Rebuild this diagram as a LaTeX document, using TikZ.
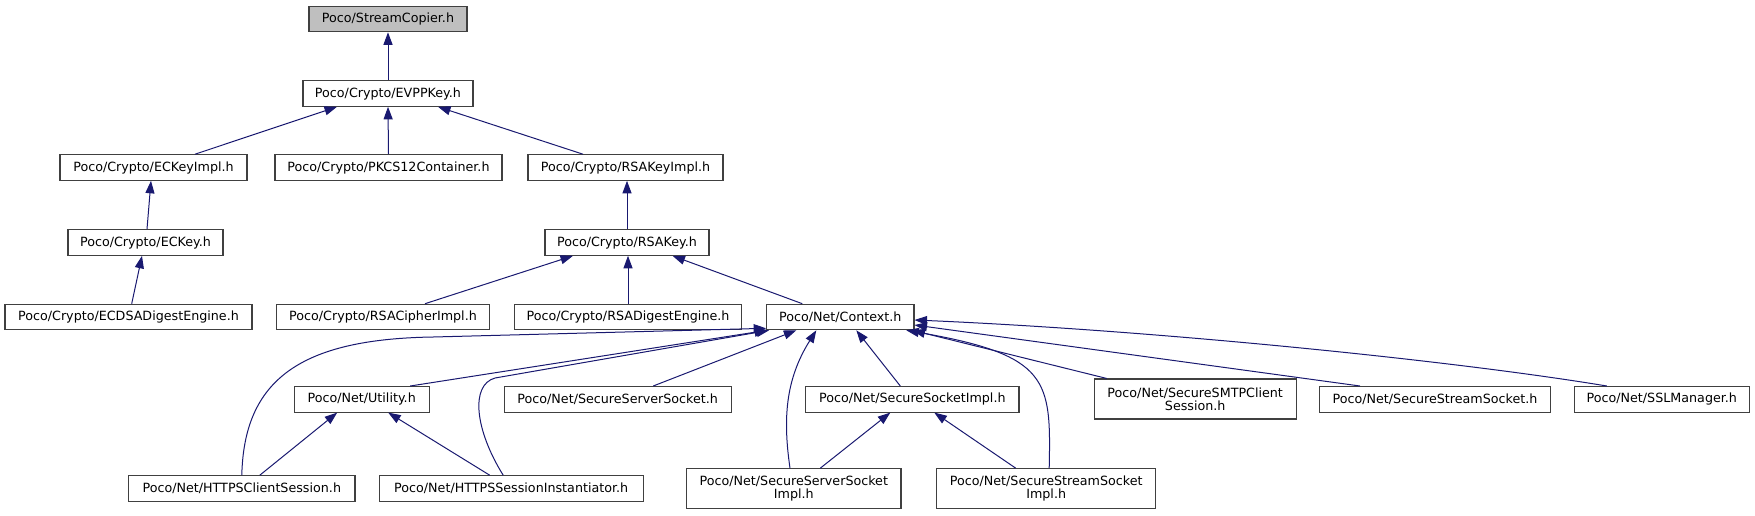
\documentclass[tikz,border=0pt]{standalone}
\usepackage{fontspec}
\setmainfont{DejaVu Sans}
\usetikzlibrary{arrows.meta,calc}
\definecolor{edgeblue}{HTML}{191970}
\definecolor{boxline}{HTML}{404040}
\definecolor{rootfill}{HTML}{BFBFBF}
\begin{document}
\begin{tikzpicture}[x=1pt,y=-1pt,
  box/.style={draw=boxline, line width=1.1pt, fill=white, rectangle, inner sep=0pt,
    minimum height=25.5pt, align=center, font=\fontsize{12.7}{13.4}\selectfont},
  tall/.style={minimum height=40pt},
  link/.style={draw=edgeblue, line width=1pt, -{Triangle[length=12.5pt,width=9pt,fill=edgeblue]}}
]
\useasboundingbox (0,0) rectangle (1755,515);

% nodes
\node[box, fill=rootfill, minimum width=158] (sc) at (388,19) {Poco/StreamCopier.h};
\node[box, minimum width=170] (evp) at (388,93.5) {Poco/Crypto/EVPPKey.h};
\node[box, minimum width=187] (eci) at (153.5,167.5) {Poco/Crypto/ECKeyImpl.h};
\node[box, minimum width=227] (pk) at (388.5,167.5) {Poco/Crypto/PKCS12Container.h};
\node[box, minimum width=195] (rki) at (625.5,167.5) {Poco/Crypto/RSAKeyImpl.h};
\node[box, minimum width=155] (eck) at (145.5,242.5) {Poco/Crypto/ECKey.h};
\node[box, minimum width=164] (rk) at (627,242.5) {Poco/Crypto/RSAKey.h};
\node[box, minimum width=247] (ecd) at (128.5,317) {Poco/Crypto/ECDSADigestEngine.h};
\node[box, minimum width=212.6] (rci) at (383,317) {Poco/Crypto/RSACipherImpl.h};
\node[box, minimum width=227.4] (rde) at (628,317) {Poco/Crypto/RSADigestEngine.h};
\node[box, minimum width=147.3] (ctx) at (840.3,317) {Poco/Net/Context.h};
\node[box, minimum width=134.7] (ut) at (361.7,399.3) {Poco/Net/Utility.h};
\node[box, minimum width=226.7] (sss) at (617.7,399.3) {Poco/Net/SecureServerSocket.h};
\node[box, minimum width=213.3] (ssi) at (912.3,399.3) {Poco/Net/SecureSocketImpl.h};
\node[box, tall, minimum width=201.7] (smtp) at (1195.2,399) {Poco/Net/SecureSMTPClient\\Session.h};
\node[box, minimum width=231.4] (sst) at (1435,399.3) {Poco/Net/SecureStreamSocket.h};
\node[box, minimum width=175] (ssl) at (1661.8,399.3) {Poco/Net/SSLManager.h};
\node[box, minimum width=226.3] (hcs) at (241.8,488.5) {Poco/Net/HTTPSClientSession.h};
\node[box, minimum width=263.7] (hsi) at (511.2,488.5) {Poco/Net/HTTPSSessionInstantiator.h};
\node[box, tall, minimum width=214.3] (sssi) at (793.8,488.7) {Poco/Net/SecureServerSocket\\Impl.h};
\node[box, tall, minimum width=219] (sti) at (1046.2,488.7) {Poco/Net/SecureStreamSocket\\Impl.h};

% edges
\draw[link] (evp.north) -- (sc.south);
\draw[link] ($(eci.north)+(41.5,0)$) -- ($(evp.south)+(-51,0)$);
\draw[link] (pk.north) -- (evp.south);
\draw[link] ($(rki.north)+(-42.5,0)$) -- ($(evp.south)+(50,0)$);
\draw[link] ($(eck.north)+(1.5,0)$) -- ($(eci.south)+(-2.5,0)$);
\draw[link] (rk.north) -- (rk.north |- rki.south);
\draw[link] ($(ecd.north)+(3.2,0)$) -- ($(eck.south)+(-3.5,0)$);
\draw[link] ($(rci.north)+(42,0)$) -- ($(rk.south)+(-54,0)$);
\draw[link] (rde.north) -- (rde.north |- rk.south);
\draw[link] ($(ctx.north)+(-38,0)$) -- ($(rk.south)+(45.5,0)$);

\draw[link] (hcs.north) .. controls (244,380) and (300,339) .. (433,337) -- ($(ctx.south west)+(0,-2)$);
\draw[link] ($(ut.north)+(48.5,0)$) -- ($(ctx.south west)+(1,0)$);
\draw[link] ($(hsi.north)+(-8,0)$) .. controls (475,430) and (470,385) .. (495,378) -- ($(ctx.south west)+(3,0)$);
\draw[link] ($(sss.north)+(35.5,0)$) -- ($(ctx.south)+(-44,0)$);
\draw[link] ($(sssi.north)+(-3.8,0)$) .. controls (783,420) and (785,380) .. ($(ctx.south)+(-24,0)$);
\draw[link] ($(ssi.north)+(-12,0)$) -- ($(ctx.south)+(16,0)$);
\draw[link] ($(sti.north)+(3,0)$) .. controls (1051,380) and (1050,355) .. ($(ctx.south)+(66,0)$);
\draw[link] ($(smtp.north)+(-88.5,0)$) -- ($(ctx.south east)+(-2,0)$);
\draw[link] ($(sst.north)+(-75,0)$) -- ($(ctx.east)+(0,8)$);
\draw[link] ($(ssl.north)+(-55,0)$) .. controls (1450,360) and (1150,330) .. ($(ctx.east)+(0,3)$);

\draw[link] ($(hcs.north)+(18,0)$) -- ($(ut.south)+(-24.5,0)$);
\draw[link] ($(hsi.north)+(-21.5,0)$) -- ($(ut.south)+(26.5,0)$);
\draw[link] ($(sssi.north)+(26.5,0)$) -- ($(ssi.south)+(-22,0)$);
\draw[link] ($(sti.north)+(-30.5,0)$) -- ($(ssi.south)+(22,0)$);
\end{tikzpicture}
\end{document}
